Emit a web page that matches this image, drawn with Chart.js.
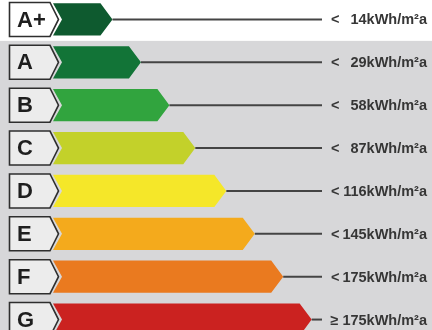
<!DOCTYPE html>
<html>
<head>
<meta charset="utf-8">
<script src="https://cdn.jsdelivr.net/npm/chart.js@4"></script>
<style>
  html, body { margin: 0; padding: 0; overflow: hidden; background: #fff; }
  #wrap { width: 432px; height: 343px; margin-top: -2px; position: relative; }
</style>
</head>
<body>
<div id="wrap"><canvas id="chart"></canvas></div>
<script>
// energy classes, top to bottom
const classes = ['A+', 'A', 'B', 'C', 'D', 'E', 'F', 'G'];
// relative arrow length (longest = 100)
const barLength = [23, 34, 45, 55, 67, 78, 89, 100];
const comparators = ['<', '<', '<', '<', '<', '<', '<', '≥'];
const limits = [14, 29, 58, 87, 116, 145, 175, 175];
const unit = 'kWh/m²a';
const barColors = ['#0e5a2f', '#127437', '#31a43e', '#c3d12a', '#f5e729', '#f4aa1c', '#ea7a1f', '#cb2220'];

// background: white first row, grey below
const backdrop = {
    id: 'backdrop',
    beforeDraw(chart) {
        const ctx = chart.ctx;
        const y = chart.scales.y;
        const split = (y.getPixelForValue(0) + y.getPixelForValue(1)) / 2;
        ctx.save();
        ctx.fillStyle = '#ffffff';
        ctx.fillRect(0, 0, chart.width, chart.height);
        ctx.fillStyle = '#d7d7d9';
        ctx.fillRect(0, split, chart.width, chart.height - split);
        ctx.restore();
    }
};

// arrows, leader lines, class boxes and limit labels
const energyLabel = {
    id: 'energyLabel',
    beforeDatasetsDraw(chart) {
        const ctx = chart.ctx;
        const meta = chart.getDatasetMeta(0);
        const right = chart.chartArea.right;
        ctx.save();
        meta.data.forEach((bar, i) => {
            const p = bar.getProps(['x', 'y', 'base', 'height'], true);
            const top = p.y - p.height / 2;
            const bottom = p.y + p.height / 2;

            // leader line
            ctx.strokeStyle = '#444';
            ctx.lineWidth = 2;
            ctx.beginPath();
            ctx.moveTo(p.x, p.y);
            ctx.lineTo(right, p.y);
            ctx.stroke();

            // arrow
            ctx.fillStyle = bar.options.backgroundColor;
            ctx.beginPath();
            ctx.moveTo(p.base, top);
            ctx.lineTo(p.x - 12, top);
            ctx.lineTo(p.x, p.y);
            ctx.lineTo(p.x - 12, bottom);
            ctx.lineTo(p.base, bottom);
            ctx.lineTo(p.base + 9, p.y);
            ctx.closePath();
            ctx.fill();

            // class box
            ctx.fillStyle = i === 0 ? '#ffffff' : '#ececec';
            ctx.strokeStyle = '#2e2e2e';
            ctx.lineWidth = 1.6;
            ctx.beginPath();
            ctx.moveTo(9.5, p.y - 17);
            ctx.lineTo(50, p.y - 17);
            ctx.lineTo(58.5, p.y);
            ctx.lineTo(50, p.y + 17);
            ctx.lineTo(9.5, p.y + 17);
            ctx.closePath();
            ctx.fill();
            ctx.stroke();

            ctx.fillStyle = '#1e1e1e';
            ctx.font = 'bold 22px "Liberation Sans", Arial, sans-serif';
            ctx.textAlign = 'left';
            ctx.textBaseline = 'middle';
            ctx.fillText(classes[i], 17, p.y + 1);

            // limit label
            ctx.fillStyle = '#363636';
            ctx.font = 'bold 14.5px "Liberation Sans", Arial, sans-serif';
            ctx.textAlign = 'right';
            const txt = limits[i] + unit;
            ctx.fillText(txt, 427, p.y + 1);
            if (comparators[i] === '<') {
                ctx.textAlign = 'left';
                ctx.fillText(comparators[i], 331, p.y + 1);
            } else {
                const w = ctx.measureText(txt).width;
                ctx.textAlign = 'right';
                ctx.fillText(comparators[i], 427 - w - 4, p.y + 1);
            }
        });
        ctx.restore();
        return false;
    }
};

new Chart(document.getElementById('chart'), {
    type: 'bar',
    data: {
        labels: classes,
        datasets: [{
            data: barLength,
            backgroundColor: barColors,
            borderWidth: 0,
            barPercentage: 0.75,
            categoryPercentage: 1
        }]
    },
    options: {
        indexAxis: 'y',
        responsive: true,
        maintainAspectRatio: false,
        animation: false,
        devicePixelRatio: 1,
        layout: { padding: { left: 53, right: 110, top: 0, bottom: 0 } },
        plugins: { legend: { display: false }, tooltip: { enabled: false } },
        scales: {
            x: { display: false, min: 0, max: 104 },
            y: { display: false }
        }
    },
    plugins: [backdrop, energyLabel]
});
</script>
</body>
</html>
